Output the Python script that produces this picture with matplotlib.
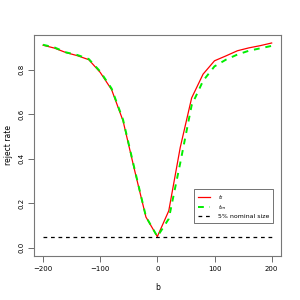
import matplotlib
matplotlib.use("Agg")
import matplotlib.pyplot as plt

b = [-200, -180, -160, -140, -120, -100, -80, -60, -40, -20, 0,
     20, 40, 60, 80, 100, 120, 140, 160, 180, 200]
t_l = [0.910, 0.897, 0.877, 0.863, 0.845, 0.788, 0.710, 0.570, 0.350, 0.138, 0.050,
       0.166, 0.450, 0.673, 0.780, 0.840, 0.862, 0.885, 0.898, 0.908, 0.920]
t_m = [0.912, 0.900, 0.878, 0.866, 0.848, 0.792, 0.715, 0.575, 0.355, 0.140, 0.050,
       0.130, 0.380, 0.640, 0.750, 0.815, 0.845, 0.868, 0.885, 0.896, 0.907]
nominal = 0.05
xticks = [-200, -100, 0, 100, 200]
yticks = [0.0, 0.2, 0.4, 0.6, 0.8]

fig = plt.figure(figsize=(3, 3), dpi=100)
ax = fig.add_axes([0.113, 0.147, 0.823, 0.737])
ax.plot(b, t_l, color='#ff0000', lw=0.9, label=r'$t_l$')
ax.plot(b, t_m, color='#00ee00', lw=1.4, ls=(0, (3, 3)), label=r'$t_m$')
ax.plot([b[0], b[-1]], [nominal, nominal], color='black', lw=0.9,
        ls=(0, (3, 3)), label='5% nominal size')

ax.set_xlim(-216, 216)
ax.set_ylim(-0.0368, 0.9568)
ax.set_xticks(xticks)
ax.set_xticklabels(['\u2212200', '\u2212100', '0', '100', '200'])
ax.set_yticks(yticks)
ax.set_yticklabels([f'{v:.1f}' for v in yticks], rotation=90, va='center')
ax.tick_params(labelsize=5, length=4, width=0.6, color='#555555', pad=3)
for s in ax.spines.values():
    s.set_color('#777777')
    s.set_linewidth(0.8)
ax.set_xlabel('b', fontsize=5.5, labelpad=8)
ax.set_ylabel('reject rate', fontsize=5.5, labelpad=4)

leg = ax.legend(loc='lower right', bbox_to_anchor=(0.968, 0.149), fontsize=4.5,
                frameon=True, fancybox=False, handlelength=2.0, borderpad=0.6,
                labelspacing=0.25, handletextpad=1.2, borderaxespad=0)
leg.get_frame().set_edgecolor('#333333')
leg.get_frame().set_linewidth(0.6)

fig.savefig('out.png', dpi=100)
